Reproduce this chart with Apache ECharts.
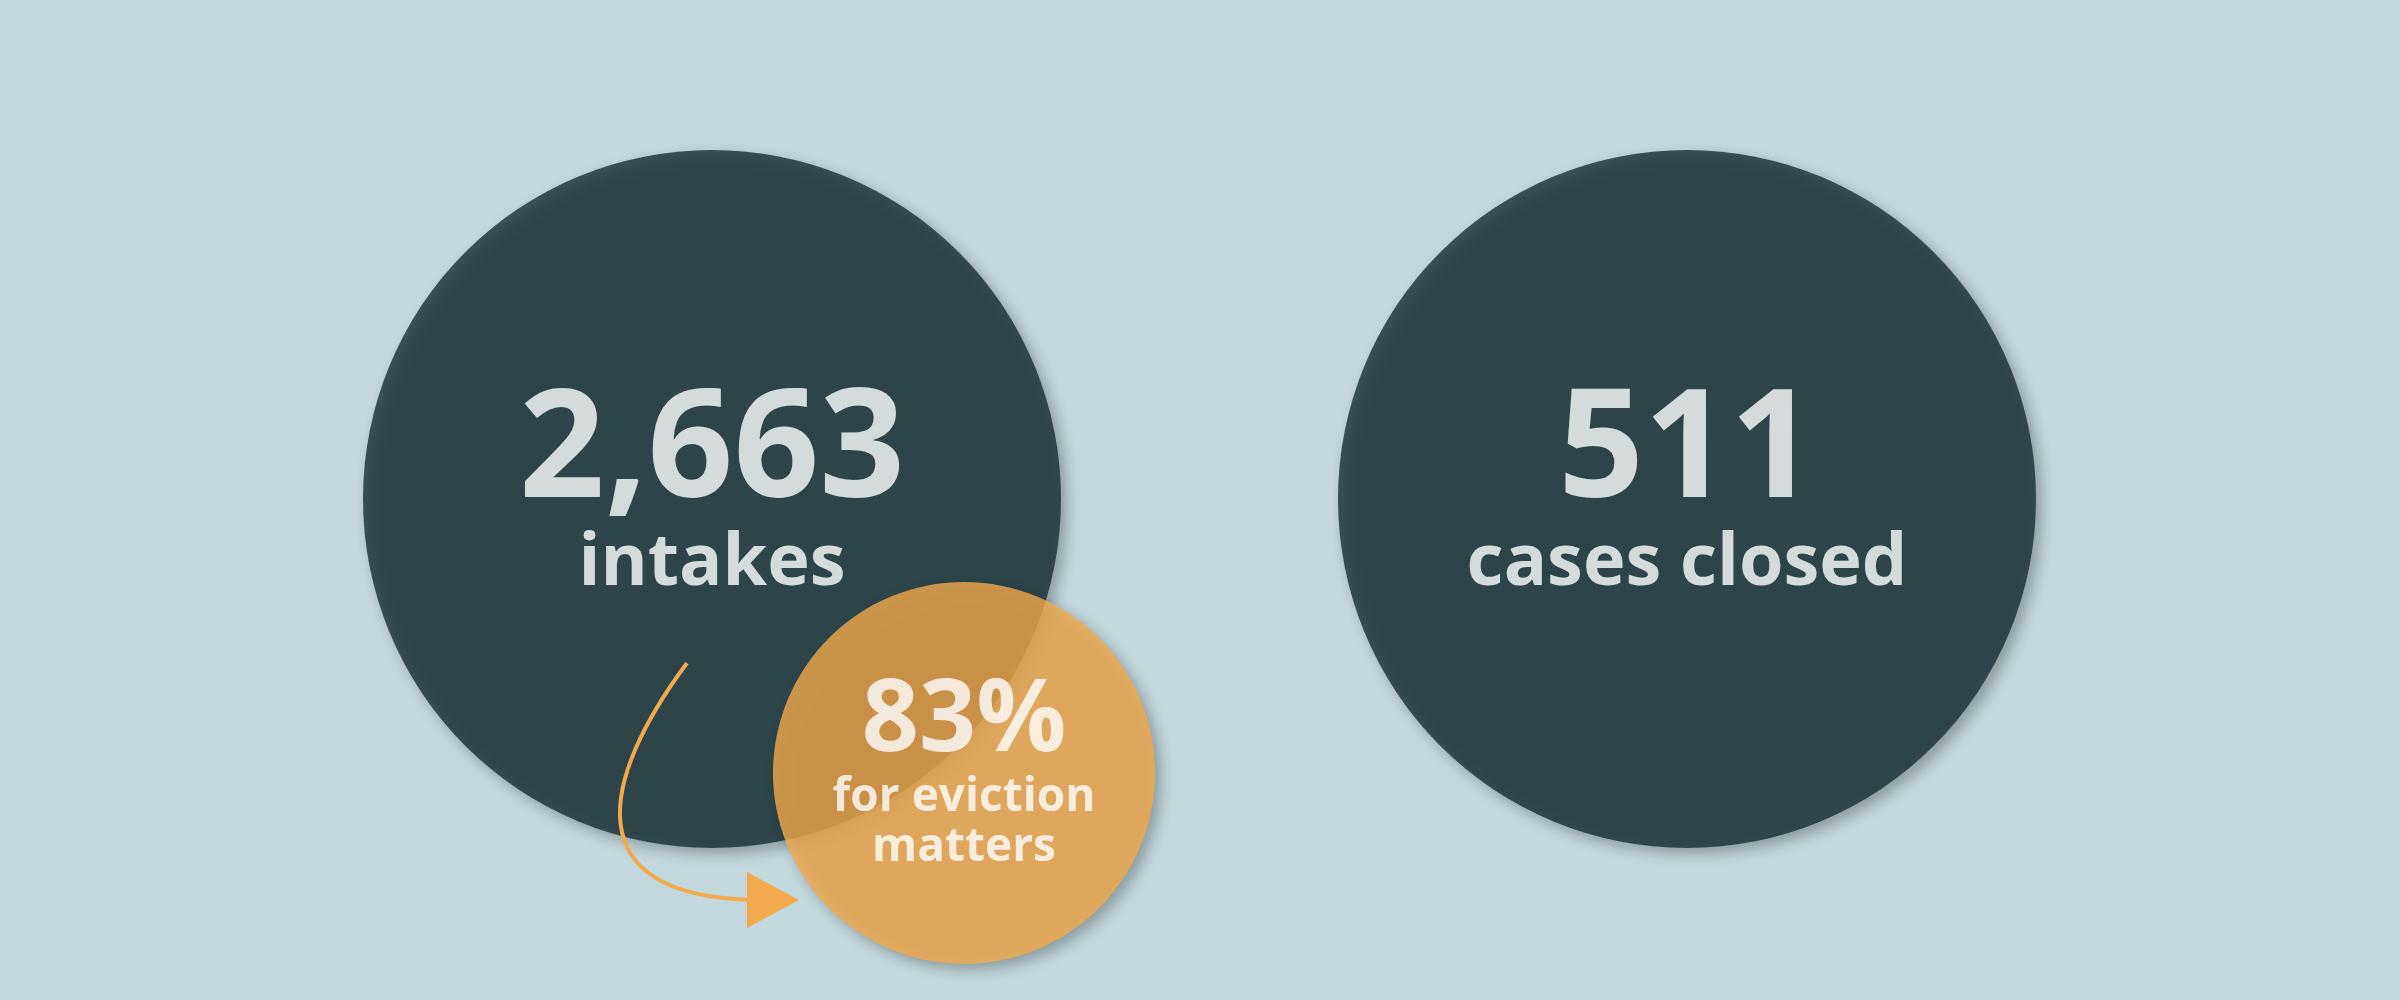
<!DOCTYPE html>
<html><head><meta charset="utf-8">
<script src="https://cdn.jsdelivr.net/npm/echarts@6/dist/echarts.min.js"></script>
<style>html,body{margin:0;padding:0;background:#c3d8dc}#c{width:2400px;height:1000px}</style>
</head><body><div id="c"></div>
<script>
const bigNumbers = ['2,663', '511', '83%'];
const captions = ['intakes', 'cases closed', 'for eviction\nmatters'];
const centersX = [712, 1687, 964];
const centersY = [499, 499, 773];
const diameters = [698, 698, 382];
const colors = ['#152f33', '#152f33', '#f2aa4c'];

const chart = echarts.init(document.getElementById('c'));
const data = bigNumbers.map((n, i) => ({
  value: [centersX[i], centersY[i]],
  symbolSize: diameters[i],
  itemStyle: {color: colors[i], shadowColor: 'rgba(0,0,0,0.35)', shadowBlur: 14, shadowOffsetX: 6, shadowOffsetY: 6},
  label: {
    show: true, position: 'inside',
    formatter: '{a|' + n + '}\n{b|' + captions[i] + '}',
    rich: i < 2 ? {
      a: {fontSize: 150, fontWeight: 'bold', color: '#fff', fontFamily: 'Open Sans', lineHeight: 130, padding:[0,0,0,0]},
      b: {fontSize: 72, fontWeight: 'bold', color: '#fff', fontFamily: 'Open Sans', lineHeight: 90}
    } : {
      a: {fontSize: 100, fontWeight: 'bold', color: '#fff', fontFamily: 'Open Sans', lineHeight: 100},
      b: {fontSize: 46, fontWeight: 'bold', color: '#fff', fontFamily: 'Open Sans', lineHeight: 50}
    }
  }
}));
chart.setOption({
  backgroundColor: '#c3d8dc',
  animation: false,
  grid: {left: 0, right: 0, top: 0, bottom: 0},
  xAxis: {type: 'value', min: 0, max: 2400, show: false},
  yAxis: {type: 'value', min: 0, max: 1000, inverse: true, show: false},
  series: [{type: 'scatter', symbol: 'circle', data: data, z: 2}],
  graphic: [
    {type: 'bezierCurve', z: 10, shape: {x1: 687, y1: 663, cpx1: 600, cpy1: 780, cpx2: 575, cpy2: 895, x2: 752, y2: 900},
     style: {stroke: '#f2aa4c', lineWidth: 4, fill: null}},
    {type: 'polygon', z: 10, shape: {points: [[747, 872], [747, 928], [799, 900]]}, style: {fill: '#f2aa4c'}}
  ]
});
</script></body></html>
